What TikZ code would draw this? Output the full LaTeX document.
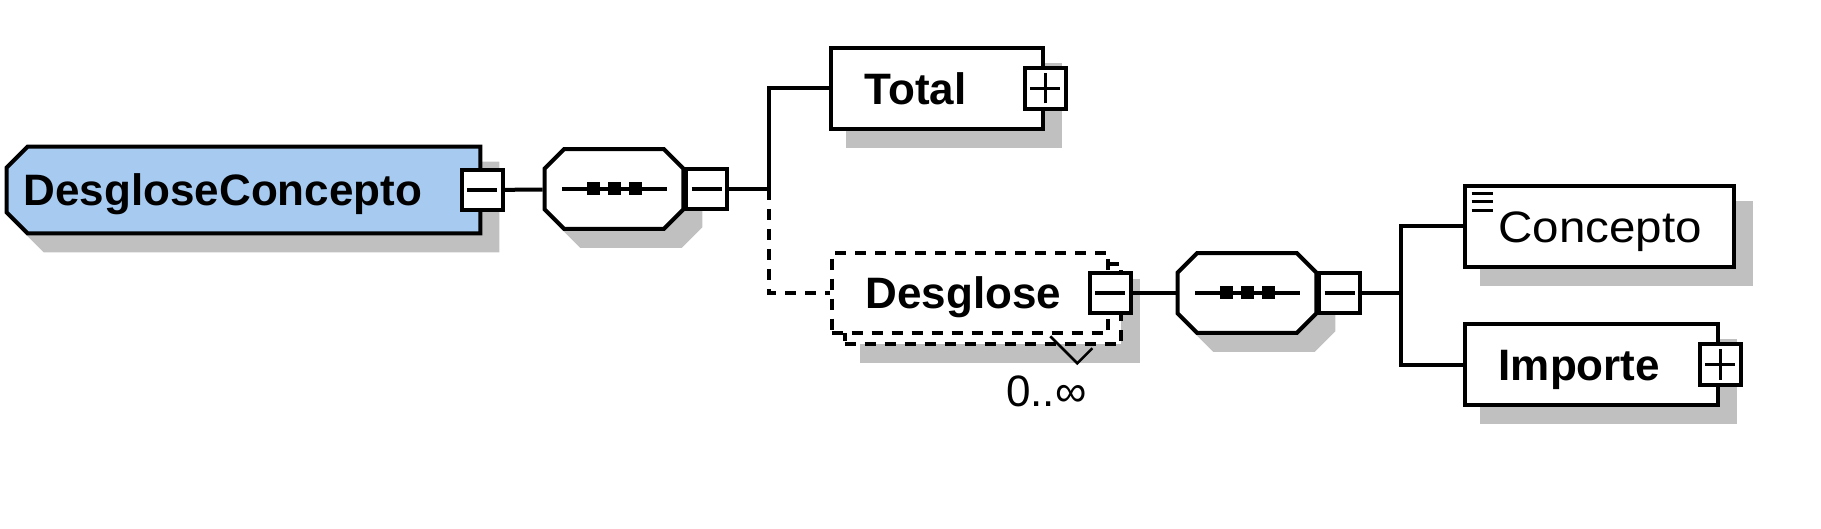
\documentclass[tikz,border=0pt]{standalone}
\usepackage{fontspec}
\setmainfont{Liberation Sans}
\newfontfamily\widefont[FakeStretch=1.08]{Liberation Sans}
\usetikzlibrary{positioning,shapes.misc,shadows}

\definecolor{elemblue}{HTML}{A6CAF0}
\definecolor{shadowgray}{HTML}{C0C0C0}

\begin{document}
\begin{tikzpicture}[
  x=1pt, y=-1pt,
  line width=4pt,
  shadowed/.style={
    general shadow={fill=shadowgray, draw=shadowgray, solid,
      shadow xshift=17pt, shadow yshift=-17pt}
  },
  namefont/.style={font=\fontsize{44}{50}\selectfont\bfseries},
  elembase/.style={
    draw,
    fill=white,
    namefont,
    align=left,
    inner xsep=34pt,
    inner ysep=4pt,
    minimum height=80.7pt,
    text height=31.5pt,
    text depth=0pt
  },
  elembox/.style={elembase, shadowed},
  manybox/.style={
    elembase,
    dash pattern=on 11pt off 9pt,
    general shadow={fill=shadowgray, draw=shadowgray, solid,
      shadow xshift=30pt, shadow yshift=-28pt},
    general shadow={draw, fill=white, dash pattern=on 11pt off 9pt,
      shadow xshift=13pt, shadow yshift=-11pt}
  },
  rootbox/.style={
    draw,
    fill=elemblue,
    shadowed,
    chamfered rectangle,
    chamfered rectangle corners={north west,south west},
    chamfered rectangle xsep=10.5pt,
    chamfered rectangle ysep=10.5pt,
    namefont,
    align=left,
    inner xsep=6.5pt,
    inner ysep=17.1pt,
    text width=439.7pt,
    text height=31.5pt,
    text depth=0pt
  },
  seqbox/.style={
    draw,
    fill=white,
    shadowed,
    chamfered rectangle,
    chamfered rectangle xsep=9.75pt,
    chamfered rectangle ysep=9.75pt,
    inner xsep=59.6pt,
    inner ysep=30.1pt,
    minimum width=138.7pt,
    minimum height=79.7pt,
    path picture={
      \draw[line width=3.5pt] ([xshift=-52pt]path picture bounding box.center)
        -- ([xshift=53pt]path picture bounding box.center);
      \foreach \dx in {-21,0,21}
        \fill[black] ([shift={({\dx-6.5},-6.5)}]path picture bounding box.center)
          rectangle ++(13,13);
    }
  },
  togglebox/.style={
    draw,
    fill=white,
    minimum size=40.7pt,
    inner sep=0pt
  },
  minusbox/.style={
    togglebox,
    path picture={
      \draw[line width=3.5pt] ([xshift=-15pt]path picture bounding box.center)
        -- ([xshift=15pt]path picture bounding box.center);
    }
  },
  plusbox/.style={
    togglebox,
    path picture={
      \draw[line width=3.5pt] ([xshift=-15pt]path picture bounding box.center)
        -- ([xshift=15pt]path picture bounding box.center);
      \draw[line width=3.5pt] ([yshift=-15pt]path picture bounding box.center)
        -- ([yshift=15pt]path picture bounding box.center);
    }
  },
  occurs/.style={font=\fontsize{44}{50}\selectfont, inner sep=0pt}
]

\useasboundingbox (0,0) rectangle (1821,529);

\node[rootbox] (root) at (243.5,190) {DesgloseConcepto};
\node[minusbox] (rootm) at (root.east) {};

\node[seqbox] (seq1) at (614,189) {};
\node[minusbox, right=-1pt of seq1] (seq1m) {};
\coordinate (fork1) at (769,189);

\node[elembox, text width=144.7pt] (total) at (937,88.5) {Total};
\node[plusbox] (totalp) at (total.east) {};

\node[manybox, text width=208.7pt] (desg) at (970,293) {Desglose};
\node[minusbox] (desgm) at (desg.east) {};
\draw[line width=2.5pt] ([shift={(-60,1)}]desg.south east) -- ++(27,27) -- ++(15,-15);
\node[occurs] (occ) at ([shift={(-64,56)}]desg.south east) {0..∞};

\node[seqbox] (seq2) at (1247,293) {};
\node[minusbox, right=-1pt of seq2] (seq2m) {};
\coordinate (fork2) at (1401,293);

\node[elembox, text width=201.7pt, font=\fontsize{44}{50}\selectfont\widefont,
  path picture={
    \foreach \dy in {7,15.5,24.5}
      \draw[line width=3pt] ([shift={(7,\dy)}]path picture bounding box.north west) -- ++(21,0);
  }] (conc) at (1599.5,226.5) {Concepto};

\node[elembox, text width=185.7pt] (imp) at (1591.5,364.5) {Importe};
\node[plusbox] (impp) at (imp.east) {};

\draw (rootm) -- (seq1);
\draw (seq1m) -- (fork1) |- (total);
\draw[dash pattern=on 11pt off 9pt] (fork1) |- (desg);
\draw (desgm) -- (seq2);
\draw (seq2m) -- (fork2) |- (conc);
\draw (fork2) |- (imp);

\end{tikzpicture}
\end{document}
